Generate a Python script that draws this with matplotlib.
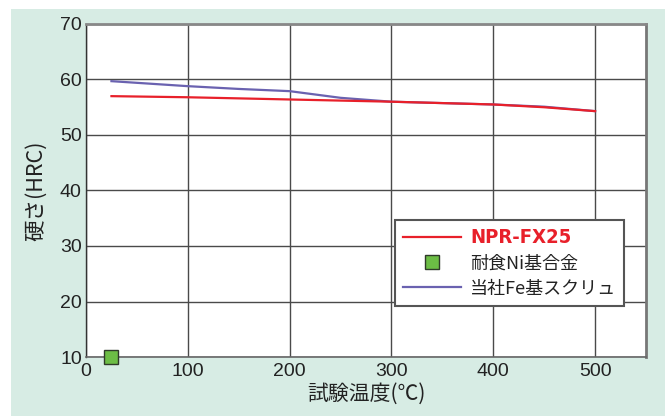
import matplotlib
matplotlib.use("Agg")
import matplotlib.pyplot as plt
from matplotlib.patches import Rectangle

plt.rcParams['font.family'] = ['Liberation Sans', 'Noto Sans CJK JP', 'DejaVu Sans']

# data
temp_fx = [25, 100, 200, 300, 400, 450, 500]
hrc_fx = [57.0, 56.8, 56.4, 56.0, 55.5, 55.0, 54.3]

temp_fe = [25, 100, 150, 200, 250, 300, 400, 450, 500]
hrc_fe = [59.7, 58.8, 58.3, 57.9, 56.7, 56.0, 55.5, 55.1, 54.3]

temp_ni = [25]
hrc_ni = [10]

labels = ['NPR-FX25', '耐食Ni基合金', '当社Fe基スクリュ']
x_ticks = [0, 100, 200, 300, 400, 500]
y_ticks = [10, 20, 30, 40, 50, 60, 70]

W, H = 665, 416
fig = plt.figure(figsize=(W / 100, H / 100), dpi=100)
fig.patch.set_facecolor('white')

# mint background panel
fig.patches.append(Rectangle((11 / W, 0), 1 - 11 / W, 1 - 9 / H,
                             transform=fig.transFigure, facecolor='#d7ece4',
                             edgecolor='none', zorder=-10))

ax = fig.add_axes([86 / W, 1 - 357 / H, (646 - 86) / W, (357 - 24) / H])
ax.set_zorder(1)
ax.set_facecolor('white')

ax.plot(temp_fx, hrc_fx, color='#e8202a', lw=1.6, label=labels[0], zorder=4)
ax.plot(temp_ni, hrc_ni, ls='none', marker='s', ms=10, mfc='#6cbd45',
        mec='#2f3a2a', mew=1.0, label=labels[1], clip_on=False, zorder=5)
ax.plot(temp_fe, hrc_fe, color='#6a62b0', lw=1.6, label=labels[2], zorder=3)

ax.set_xlim(0, 550)
ax.set_ylim(10, 70)
ax.set_xticks(x_ticks)
ax.set_yticks(y_ticks)
ax.grid(True, color='#4a4a4a', lw=1.0)
ax.set_axisbelow(True)
ax.tick_params(length=0, labelsize=14, colors='#222222')
ax.tick_params(axis='y', pad=3)
ax.tick_params(axis='x', pad=4)

ax.spines['left'].set_color('#333333')
ax.spines['left'].set_linewidth(1.0)
ax.spines['bottom'].set_color('#666666')
ax.spines['bottom'].set_linewidth(1.2)
ax.spines['top'].set_color('#888888')
ax.spines['top'].set_linewidth(2.0)
ax.spines['right'].set_color('#777777')
ax.spines['right'].set_linewidth(2.0)

ax.set_xlabel('試験温度(℃)', fontsize=15, color='#222222', labelpad=2,
              family=['Noto Sans CJK JP', 'DejaVu Sans'])
ax.set_ylabel('硬さ(HRC)', fontsize=15.5, color='#222222', labelpad=9,
              family=['Noto Sans CJK JP', 'DejaVu Sans'])

leg = ax.legend(loc='upper left', bbox_to_anchor=(0.552, 0.411),
                borderaxespad=0, frameon=True, fancybox=False,
                handlelength=3.2, handletextpad=0.5,
                labelspacing=0.4, borderpad=0.45,
                prop={'family': ['Noto Sans CJK JP', 'DejaVu Sans'], 'size': 13})
leg.get_frame().set_edgecolor('#555555')
leg.get_frame().set_linewidth(1.5)
leg.get_frame().set_facecolor('white')
leg.get_frame().set_alpha(1.0)
t0 = leg.get_texts()[0]
t0.set_color('#e8202a')
t0.set_fontweight('heavy')
t0.set_family('DejaVu Sans')
t0.set_fontstretch('condensed')
t0.set_fontsize(14.5)
for t in leg.get_texts()[1:]:
    t.set_color('#222222')

fig.savefig('out.png', dpi=100)
